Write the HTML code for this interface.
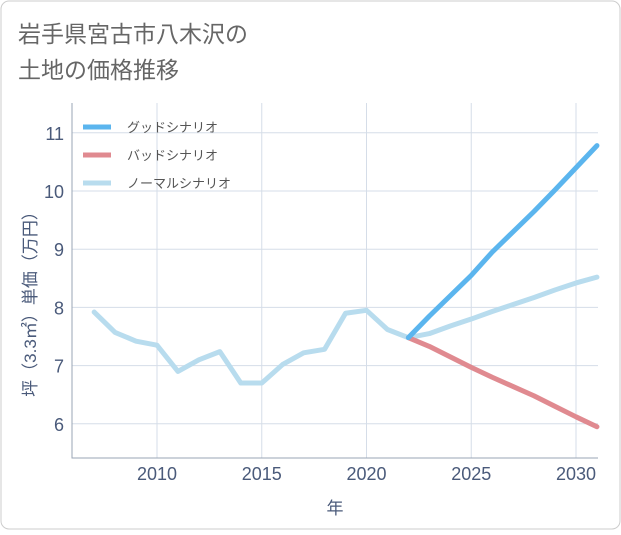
<!DOCTYPE html>
<html><head><meta charset="utf-8"><style>
body{margin:0;background:#fff;}
#c{position:relative;width:621px;height:530px;font-family:"Liberation Sans","Noto Sans CJK JP",sans-serif;}
</style></head><body>
<div id="c">
<svg width="621" height="530">
<rect x="1" y="1" width="619" height="528" rx="8" fill="#fff" stroke="#ccc"/>
<text x="18" y="42" font-size="23" fill="#666">岩手県宮古市八木沢の</text>
<text x="18" y="78" font-size="23" fill="#666">土地の価格推移</text>
<g id="grid"></g>
<g id="axes"></g>
<g id="series"></g>
<g id="legend"></g>
<text x="335" y="514" font-size="17" fill="#4a5a7a" text-anchor="middle">年</text>
<text transform="translate(36,300) rotate(-90)" font-size="17" fill="#4a5a7a" text-anchor="middle">坪（3.3㎡）単価（万円）</text>
</svg></div>
<script>
const years=[2007,2008,2009,2010,2011,2012,2013,2014,2015,2016,2017,2018,2019,2020,2021,2022,2023,2024,2025,2026,2027,2028,2029,2030,2031];
const normal=[7.92,7.57,7.42,7.35,6.9,7.1,7.24,6.7,6.7,7.02,7.22,7.28,7.9,7.95,7.62,7.48,7.55,7.68,7.8,7.93,8.05,8.17,8.3,8.42,8.52];
const fyears=[2022,2023,2024,2025,2026,2027,2028,2029,2030,2031];
const good=[7.48,7.85,8.2,8.55,8.95,9.3,9.65,10.02,10.4,10.78];
const bad=[7.48,7.33,7.15,6.97,6.8,6.64,6.48,6.3,6.12,5.95];
const xticks=[2010,2015,2020,2025,2030];
const yticks=[6,7,8,9,10,11];
const L=72,R=598,T=103,B=458;
const x=v=>157+(v-2010)*20.95;
const y=v=>191-(v-10)*58.2;
const ns="http://www.w3.org/2000/svg";
function mk(t,a,p){const e=document.createElementNS(ns,t);for(const k in a)e.setAttribute(k,a[k]);p.appendChild(e);return e;}
const grid=document.getElementById('grid'),axes=document.getElementById('axes'),ser=document.getElementById('series'),leg=document.getElementById('legend');
xticks.forEach(t=>{const l=mk('line',{x1:x(t),x2:x(t),y1:T,y2:B,stroke:'#d5dde8'},grid);

const tx=mk('text',{x:x(t),y:B+22,'font-size':18,fill:'#4a5a7a','text-anchor':'middle'},axes);tx.textContent=t;
});
yticks.forEach(t=>{const l=mk('line',{x1:L,x2:R,y1:y(t),y2:y(t),stroke:'#d5dde8'},grid);

const tx=mk('text',{x:L-8,y:y(t)+7,'font-size':18,fill:'#4a5a7a','text-anchor':'end'},axes);tx.textContent=t;
});
const fr=mk('path',{d:`M${L},${T}V${B}H${R}`,stroke:'#9aa5b5',fill:'none'},axes);

function line(xs,vs,c,n){const p=mk('polyline',{points:xs.map((v,i)=>x(v)+','+y(vs[i])).join(' '),fill:'none',stroke:c,'stroke-width':5,'stroke-linejoin':'round','stroke-linecap':'round'},ser);
}
line(years,normal,'#b8dcee','normal-line');
line(fyears,bad,'#e08a90','bad-line');
line(fyears,good,'#5bb5ee','good-line');
[['グッドシナリオ','#5bb5ee'],['バッドシナリオ','#e08a90'],['ノーマルシナリオ','#b8dcee']].forEach((d,i)=>{
const yy=127+i*28;
const l=mk('line',{x1:83,x2:111,y1:yy,y2:yy,stroke:d[1],'stroke-width':5},leg);

const t=mk('text',{x:127,y:yy+5,'font-size':13,fill:'#555'},leg);t.textContent=d[0];
});
</script></body></html>
